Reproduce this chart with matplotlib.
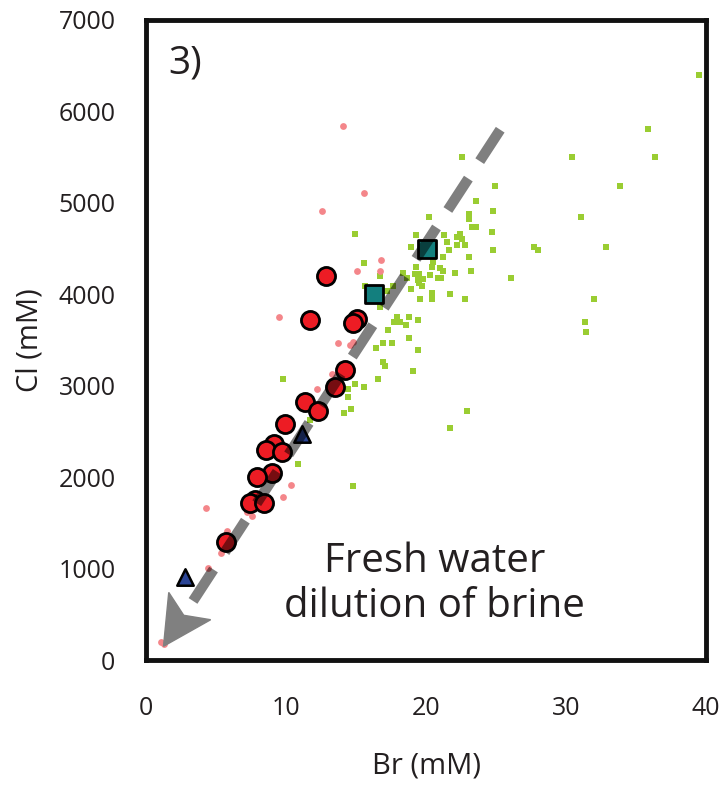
import numpy as np
import matplotlib
matplotlib.use("Agg")
from matplotlib import pyplot as plt
from matplotlib.patches import Polygon
from matplotlib.transforms import IdentityTransform

plt.rcParams["font.family"] = ["Open Sans", "DejaVu Sans"]

# brine samples (green squares)
brine_br = [14.93, 15.55, 16.69, 15.67, 17.19, 16.7, 17.3, 17.9, 17.7, 16.95, 17.6, 16.45,
            16.9, 17.07, 9.79, 16.57, 14.93, 15.57, 14.45, 14.45, 14.67, 14.14, 11.71, 10.86, 14.8,
            22.57, 24.95, 23.57, 24.81, 23.07, 23.07, 20.19, 23.3, 23.57, 24.71, 19.31, 21.31, 22.43,
            22.19, 22.6, 22.19, 22.8, 21.48, 21.64, 18.95, 24.81, 21.19, 23.07, 20.52,
            19.29, 20.4, 21.0, 21.24, 19.21, 19.52, 20.29, 20.83, 21.1, 19.4, 19.8, 19.52, 19.69,
            18.33, 22.07, 23.19, 26.07, 18.62, 17.67, 18.93, 20.45, 20.45, 21.71, 19.55, 22.81,
            18.14, 18.57, 18.81, 19.45, 18.81, 19.45, 19.07, 22.95, 21.69,
            39.48, 35.83, 30.45, 36.33, 33.83, 31.1, 27.71, 27.98, 32.83, 31.98, 31.36, 31.45]
brine_cl = [4656, 4342, 4203, 4094, 4036, 3864, 3613, 3755, 3700, 3471, 3471, 3413,
            3256, 3220, 3077, 3077, 3019, 2990, 2960, 2880, 2745, 2698, 2625, 2144, 1903,
            5498, 5188, 5017, 4907, 4878, 4823, 4849, 4740, 4740, 4681, 4652, 4652, 4656,
            4630, 4605, 4539, 4539, 4572, 4484, 4512, 4484, 4404, 4404, 4358,
            4302, 4302, 4284, 4258, 4222, 4222, 4207, 4174, 4174, 4156, 4163, 4120, 4094,
            4229, 4229, 4258, 4174, 4174, 4090, 4058, 4011, 3945, 4003, 3945, 3945,
            3700, 3664, 3755, 3719, 3527, 3391, 3164, 2723, 2534,
            6398, 5804, 5498, 5498, 5188, 4849, 4512, 4484, 4512, 3948, 3697, 3584]

# small pink dots
pink_br = [14.05, 15.57, 12.55, 16.8, 15.05, 16.69, 9.48, 13.7, 14.6, 14.8, 13.3, 12.21,
           10.36, 9.81, 4.29, 7.24, 7.55, 5.81, 5.36, 4.45, 1.1, 1.3]
pink_cl = [5837, 5104, 4907, 4371, 4258, 4258, 3751, 3471, 3445, 3474, 3132, 2961,
           1914, 1786, 1666, 1622, 1578, 1414, 1167, 1003, 200, 170]

# red circles
red_br = [12.88, 11.71, 15.1, 14.8, 14.21, 13.5, 11.38, 12.26, 9.93, 9.12, 8.57, 9.71,
          9.02, 7.93, 7.79, 7.43, 8.4, 5.69]
red_cl = [4196, 3715, 3733, 3686, 3172, 2986, 2822, 2727, 2578, 2359, 2297, 2278,
          2049, 2002, 1750, 1721, 1721, 1294]

# teal squares
teal_br = [16.3, 20.07]
teal_cl = [4000, 4500]

# navy triangles
tri_br = [11.12, 2.79]
tri_cl = [2475, 911]

# dilution arrow (tail, tip)
arrow_tail = (25.3, 5800)
arrow_tip = (1.25, 150)

fig = plt.figure(figsize=(7.25, 7.87), dpi=100)
ax = fig.add_axes([146 / 725, 127 / 787, 560 / 725, 640 / 787])
ax.set_xlim(0, 40)
ax.set_ylim(0, 7000)

ax.scatter(brine_br, brine_cl, marker="s", s=20, color="#9acd32", linewidths=0, zorder=2)
ax.scatter(pink_br, pink_cl, marker="o", s=24, color="#f4868a", linewidths=0, zorder=3)
ax.scatter(teal_br, teal_cl, marker="s", s=150, color="#137f7e", edgecolors="black",
           linewidths=2, zorder=4)
ax.scatter(red_br, red_cl, marker="o", s=170, color="#ed1c24", edgecolors="black",
           linewidths=2, zorder=5)
ax.scatter(tri_br, tri_cl, marker="^", s=140, color="#2b4596", edgecolors="black",
           linewidths=1.8, zorder=5)

# arrow head in pixels, built along the arrow direction
tip = ax.transData.transform(arrow_tip)
tail = ax.transData.transform(arrow_tail)
u = (tail - tip) / np.hypot(*(tail - tip))
v = np.array([-u[1], u[0]])
head_len, head_half, notch = 48, 25, 37
head = Polygon([tip, tip + head_len * u + head_half * v, tip + notch * u,
                tip + head_len * u - head_half * v],
               closed=True, color="#808080", transform=IdentityTransform(), zorder=6)
ax.add_patch(head)

shaft_end = ax.transData.inverted().transform(tip + (notch - 2) * u)
ax.plot([arrow_tail[0], shaft_end[0]], [arrow_tail[1], shaft_end[1]], color="black",
        alpha=0.5, lw=7.5, dashes=(3.6, 2.0), solid_capstyle="butt", zorder=6)

ax.text(0.515, 0.118, "Fresh water\ndilution of brine", transform=ax.transAxes,
        ha="center", va="center", fontsize=29, color="#231f20", linespacing=1.15)
ax.text(0.04, 0.962, "3)", transform=ax.transAxes, ha="left", va="top",
        fontsize=28, color="#231f20")

ax.set_xticks([0, 10, 20, 30, 40])
ax.set_yticks(range(0, 7001, 1000))
ax.tick_params(axis="both", length=0, labelsize=18, labelcolor="#231f20")
ax.tick_params(axis="x", pad=26)
ax.tick_params(axis="y", pad=22)
ax.set_xlabel("Br (mM)", fontsize=21, color="#231f20", labelpad=22)
ax.set_ylabel("Cl (mM)", fontsize=21, color="#231f20", labelpad=10)
for sp in ax.spines.values():
    sp.set_linewidth(3.5)
    sp.set_color("#111111")

fig.savefig("out.png", dpi=100)
